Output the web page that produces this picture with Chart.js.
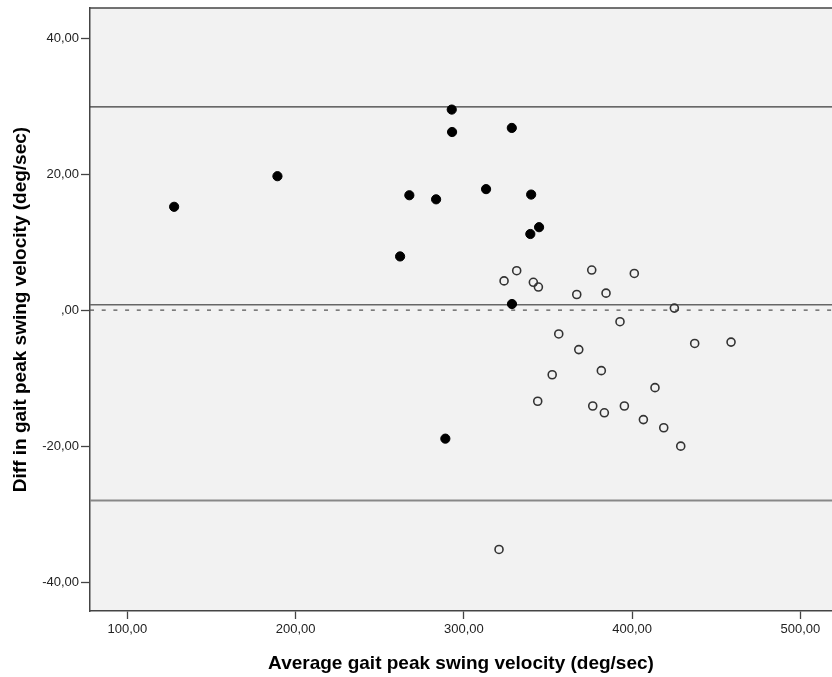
<!DOCTYPE html>
<html>
<head>
<meta charset="utf-8">
<title>Bland-Altman</title>
<script src="https://cdn.jsdelivr.net/npm/chart.js@4.4.1/dist/chart.umd.min.js"></script>
<style>
  html, body { margin: 0; padding: 0; background: #fff; }
</style>
</head>
<body>
<canvas id="graphBA" width="832" height="677"></canvas>
<script>
// group 1 (filled dots): mean of both measures vs difference
const meanFilled = [127.8, 189.2, 267.6, 262.1, 283.5, 292.8, 293.0, 328.6, 289.0, 328.5, 313.2, 340.0, 344.7, 339.5];
const diffFilled = [15.2, 19.7, 16.9, 7.9, 16.3, 29.5, 26.2, 0.9, -18.9, 26.8, 17.8, 17.0, 12.2, 11.2];

// group 2 (open circles)
const meanOpen = [323.9, 331.4, 341.3, 344.3, 367.1, 376.0, 384.5, 401.3, 425.1, 392.8, 356.4, 368.3, 437.2,
                  458.8, 352.5, 381.7, 413.6, 343.9, 376.6, 383.5, 395.4, 406.7, 418.8, 428.9, 320.9];
const diffOpen = [4.3, 5.8, 4.1, 3.4, 2.3, 5.9, 2.5, 5.4, 0.3, -1.7, -3.5, -5.8, -4.9,
                  -4.7, -9.5, -8.9, -11.4, -13.4, -14.1, -15.1, -14.1, -16.1, -17.3, -20.0, -35.2];

// mean difference and limits of agreement
const upperLimit = 29.9;
const meanDiff = 0.8;
const lowerLimit = -28.0;
const zeroLine = 0;

const xTicks = [100, 200, 300, 400, 500];
const yTicks = [-40, -20, 0, 20, 40];

const xMin = 77.8, xMax = 518.8;
const yMin = -44.25, yMax = 44.44;

Chart.defaults.font.family = '"Liberation Sans", Arial, sans-serif';
Chart.defaults.color = '#222';

// 40 -> "40,00", 0 -> ",00"
const fmt = (v) => v === 0 ? ',00' : v.toFixed(2).replace('.', ',');

const toPoints = (xs, ys) => xs.map((x, i) => ({ x: x, y: ys[i] }));

const hLine = (y, color, width, dash) => ({
  type: 'line',
  data: [{ x: xMin, y: y }, { x: xMax, y: y }],
  borderColor: color,
  borderWidth: width,
  borderDash: dash || [],
  pointRadius: 0,
  fill: false,
  order: 2
});

// gray plot area plus the top edge of the frame
const plotBackground = {
  id: 'plotBackground',
  beforeDraw(chart) {
    const { ctx, chartArea: { left, top, width, height } } = chart;
    ctx.save();
    ctx.fillStyle = '#f2f2f2';
    ctx.fillRect(left, top, width, height);
    ctx.restore();
  },
  afterDraw(chart) {
    const { ctx, chartArea: { left, top, right } } = chart;
    ctx.save();
    ctx.strokeStyle = '#444';
    ctx.lineWidth = 1.5;
    ctx.beginPath();
    ctx.moveTo(left, top);
    ctx.lineTo(right, top);
    ctx.stroke();
    ctx.restore();
  }
};

let ctxBA = document.getElementById('graphBA').getContext('2d');

let graphBA = new Chart(ctxBA, {
  type: 'scatter',
  data: {
    datasets: [
      {
        label: 'filled',
        data: toPoints(meanFilled, diffFilled),
        backgroundColor: '#000',
        borderColor: '#000',
        borderWidth: 1,
        pointRadius: 4.6,
        order: 0
      },
      {
        label: 'open',
        data: toPoints(meanOpen, diffOpen),
        backgroundColor: 'rgba(0,0,0,0)',
        borderColor: '#333',
        borderWidth: 1.6,
        pointRadius: 4,
        order: 0
      },
      hLine(upperLimit, '#3a3a3a', 1.2),
      hLine(meanDiff, '#666', 1.6),
      hLine(lowerLimit, '#888', 1.8),
      hLine(zeroLine, '#555', 1.3, [4, 7.7])
    ]
  },
  options: {
    responsive: false,
    animation: false,
    layout: {
      autoPadding: false, // plot runs right up to the canvas edge
      padding: { top: 8, right: 0, left: 0, bottom: 0 }
    },
    plugins: {
      legend: { display: false },
      tooltip: { enabled: false }
    },
    scales: {
      x: {
        type: 'linear',
        min: xMin,
        max: xMax,
        afterBuildTicks: (scale) => { scale.ticks = xTicks.map(v => ({ value: v })); },
        afterFit: (scale) => {
          scale.height = 66;
          scale.paddingLeft = 0;
          scale.paddingRight = 0;
        },
        ticks: {
          callback: (v) => fmt(v),
          font: { size: 13 },
          color: '#222',
          padding: 3,
          maxRotation: 0
        },
        grid: {
          drawOnChartArea: false,
          tickLength: 8,
          tickColor: '#444',
          tickWidth: 1.3
        },
        border: { color: '#444', width: 1.5 },
        title: {
          display: true,
          text: 'Average gait peak swing velocity (deg/sec)',
          font: { size: 19, weight: 'bold' },
          color: '#000',
          padding: { top: 0, bottom: 2 }
        }
      },
      y: {
        type: 'linear',
        min: yMin,
        max: yMax,
        afterBuildTicks: (scale) => { scale.ticks = yTicks.map(v => ({ value: v })); },
        afterFit: (scale) => {
          scale.width = 90;
          scale.paddingTop = 0;
          scale.paddingBottom = 0;
        },
        ticks: {
          callback: (v) => fmt(v),
          font: { size: 13 },
          color: '#222',
          padding: 2
        },
        grid: {
          drawOnChartArea: false,
          tickLength: 9,
          tickColor: '#444',
          tickWidth: 1.3
        },
        border: { color: '#444', width: 1.5 },
        title: {
          display: true,
          text: 'Diff in gait peak swing velocity (deg/sec)',
          font: { size: 19, weight: 'bold' },
          color: '#000',
          padding: { top: 9, bottom: 0 }
        }
      }
    }
  },
  plugins: [plotBackground]
});
</script>
</body>
</html>
